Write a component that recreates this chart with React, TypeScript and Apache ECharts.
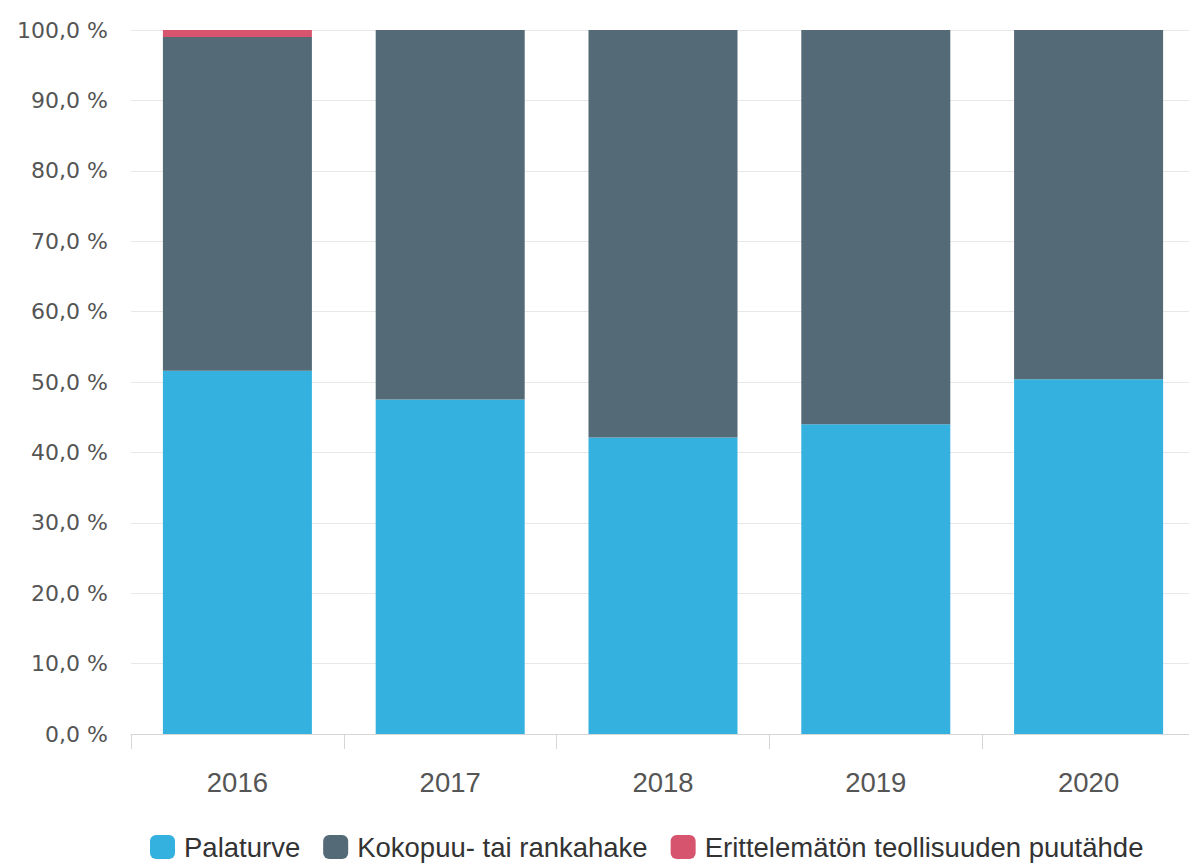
import React, { useEffect, useRef } from "react";
import * as echarts from "echarts";

const categories = ["2016", "2017", "2018", "2019", "2020"];
const seriesNames = ["Palaturve", "Kokopuu- tai rankahake", "Erittelemätön teollisuuden puutähde"];
const palaturve = [51.6, 47.5, 42.1, 44.0, 50.4];
const kokopuu = [47.4, 52.5, 57.9, 56.0, 49.6];
const erittelematon = [1.0, 0, 0, 0, 0];
const colors = ["#34B1DE", "#546A76", "#D7546E"];

export default function App() {
  const ref = useRef<HTMLDivElement>(null);
  useEffect(() => {
    document.body.style.margin = "0";
    const chart = echarts.init(ref.current!, null, { renderer: "svg" });
    const font = "'Liberation Sans', Arial, sans-serif";
    const values = [palaturve, kokopuu, erittelematon];
    chart.setOption({
      animation: false,
      color: colors,
      grid: { left: 131, top: 30, right: 5, bottom: 130, containLabel: false },
      legend: {
        left: 150,
        top: 833,
        padding: 0,
        itemWidth: 25,
        itemHeight: 24,
        itemGap: 23,
        icon: "roundRect",
        textStyle: { fontSize: 27.5, color: "#333", fontFamily: font, padding: [0, 0, 0, 4], lineHeight: 27 },
        data: seriesNames,
      },
      xAxis: {
        type: "category",
        data: categories,
        axisLine: { lineStyle: { color: "#d6d6d6", width: 1 } },
        axisTick: { show: true, length: 15, lineStyle: { color: "#d6d6d6" } },
        axisLabel: { fontSize: 27.5, color: "#555", fontFamily: font, margin: 35, lineHeight: 27 },
      },
      yAxis: {
        type: "value",
        min: 0,
        max: 100,
        interval: 10,
        axisLine: { show: false },
        axisTick: { show: false },
        splitLine: { lineStyle: { color: "#e8e8e8", width: 1 } },
        axisLabel: {
          fontSize: 22,
          color: "#555",
          fontFamily: "'DejaVu Sans', sans-serif",
          margin: 23,
          formatter: (v: number) => v.toFixed(1).replace(".", ",") + " %",
        },
      },
      series: seriesNames.map((name, i) => ({
        name,
        type: "bar",
        stack: "total",
        barWidth: 149,
        data: values[i],
      })),
    });
    return () => chart.dispose();
  }, []);
  return (
    <div style={{ width: 1189, height: 864, overflow: "hidden" }}>
      <div ref={ref} style={{ width: 1200, height: 864 }} />
    </div>
  );
}
